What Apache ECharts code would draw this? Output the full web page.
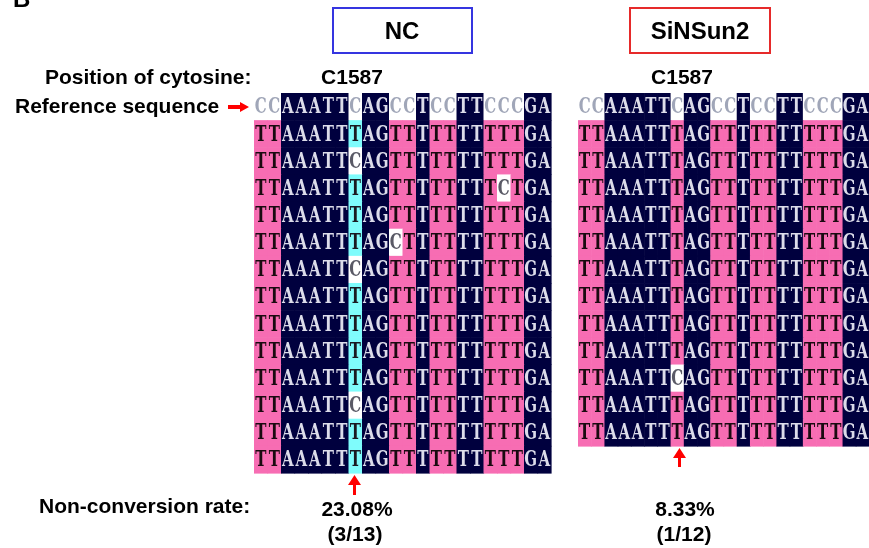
<!DOCTYPE html>
<html><head><meta charset="utf-8">
<script src="https://cdn.jsdelivr.net/npm/echarts@6/dist/echarts.min.js"></script>
<style>html,body{margin:0;padding:0;background:#fff}#c{width:869px;height:548px}</style>
</head><body><div id="c"></div>
<script>
// ---- data ----
const panelNames = ['NC', 'SiNSun2'];
const positionLabel = 'C1587';
const referenceSeq = 'CCAAATTCAGCCTCCTTCCCGA';
const ncReads = [
  'TTAAATTTAGTTTTTTTTTTGA',
  'TTAAATTCAGTTTTTTTTTTGA',
  'TTAAATTTAGTTTTTTTTCTGA',
  'TTAAATTTAGTTTTTTTTTTGA',
  'TTAAATTTAGCTTTTTTTTTGA',
  'TTAAATTCAGTTTTTTTTTTGA',
  'TTAAATTTAGTTTTTTTTTTGA',
  'TTAAATTTAGTTTTTTTTTTGA',
  'TTAAATTTAGTTTTTTTTTTGA',
  'TTAAATTTAGTTTTTTTTTTGA',
  'TTAAATTCAGTTTTTTTTTTGA',
  'TTAAATTTAGTTTTTTTTTTGA',
  'TTAAATTTAGTTTTTTTTTTGA'
];
const siReads = [
  'TTAAATTTAGTTTTTTTTTTGA',
  'TTAAATTTAGTTTTTTTTTTGA',
  'TTAAATTTAGTTTTTTTTTTGA',
  'TTAAATTTAGTTTTTTTTTTGA',
  'TTAAATTTAGTTTTTTTTTTGA',
  'TTAAATTTAGTTTTTTTTTTGA',
  'TTAAATTTAGTTTTTTTTTTGA',
  'TTAAATTTAGTTTTTTTTTTGA',
  'TTAAATTTAGTTTTTTTTTTGA',
  'TTAAATTCAGTTTTTTTTTTGA',
  'TTAAATTTAGTTTTTTTTTTGA',
  'TTAAATTTAGTTTTTTTTTTGA'
];
const rateLabels = ['23.08%', '8.33%'];
const countLabels = ['(3/13)', '(1/12)'];
const highlightCol = [7, -1];

// ---- styles ----
const NAVY = '#00003e', PINK = '#f76db3', CYAN = '#7ffcfc', WHITE = '#ffffff';

function buildCells(reads, hl) {
  const cells = [];
  for (let j = 0; j < referenceSeq.length; j++) {
    const r = referenceSeq[j];
    cells.push({col: j, row: 0, ch: r, bg: r === 'C' ? WHITE : NAVY, fg: r === 'C' ? '#a0a6b8' : '#dcdcea'});
  }
  reads.forEach((s, i) => {
    for (let j = 0; j < s.length; j++) {
      const ch = s[j], r = referenceSeq[j];
      let bg, fg;
      if (r !== 'C') { bg = NAVY; fg = '#dcdcea'; }
      else if (ch === 'C') { bg = WHITE; fg = '#5a5a66'; }
      else if (j === hl) { bg = CYAN; fg = '#1a1a22'; }
      else { bg = PINK; fg = '#1a0a10'; }
      cells.push({col: j, row: i + 1, ch, bg, fg});
    }
  });
  return cells;
}
const panels = [buildCells(ncReads, highlightCol[0]), buildCells(siReads, highlightCol[1])];

function makeRender(cells) {
  return function (params, api) {
    const cell = cells[params.dataIndex];
    const p = api.coord([cell.col, cell.row]);
    const s = api.size([1, 1]);
    return {
      type: 'group',
      children: [
        {type: 'rect', shape: {x: p[0] - s[0] / 2, y: p[1] - s[1] / 2, width: s[0] + 0.6, height: s[1] + 0.6},
         style: {fill: cell.bg}},
        {type: 'text', x: p[0], y: p[1] + 1, scaleY: 1.5,
         style: {text: cell.ch, fill: cell.fg, font: 'bold 15px "DejaVu Serif"', align: 'center', verticalAlign: 'middle',
                 textShadowColor: 'rgba(210,120,60,0.55)', textShadowOffsetX: -1, textShadowBlur: 0}}
      ]
    };
  };
}

const cols = referenceSeq.split('').map((_, i) => String(i));
const rowsOf = n => Array.from({length: n + 1}, (_, i) => String(i));

const chart = echarts.init(document.getElementById('c'), null, {renderer: 'canvas'});
const F = 'bold 21px "Liberation Sans", Arial, sans-serif';
function txt(x, y, t, align, font) {
  return {type: 'text', x, y, style: {text: t, font: font || F, fill: '#000', align: align || 'left', verticalAlign: 'middle'}};
}
chart.setOption({
  animation: false,
  backgroundColor: '#fff',
  grid: [
    {left: 254, top: 93, width: 297, height: 380},
    {left: 578, top: 93, width: 297, height: 353}
  ],
  xAxis: [
    {type: 'category', gridIndex: 0, data: cols, show: false},
    {type: 'category', gridIndex: 1, data: cols, show: false}
  ],
  yAxis: [
    {type: 'category', gridIndex: 0, data: rowsOf(ncReads.length), inverse: true, show: false},
    {type: 'category', gridIndex: 1, data: rowsOf(siReads.length), inverse: true, show: false}
  ],
  series: panels.map((cells, k) => ({
    type: 'custom', xAxisIndex: k, yAxisIndex: k,
    data: cells.map(c => [c.col, c.row]),
    renderItem: makeRender(cells),
    silent: true
  })),
  graphic: [
    txt(13, 0, 'B', 'left', 'bold 24px "Liberation Sans", Arial, sans-serif'),
    {type: 'rect', shape: {x: 333, y: 8, width: 139, height: 45}, style: {fill: 'none', stroke: '#3535e0', lineWidth: 2}},
    {type: 'rect', shape: {x: 630, y: 8, width: 140, height: 45}, style: {fill: 'none', stroke: '#e62a2a', lineWidth: 2}},
    txt(402, 32, panelNames[0], 'center', 'bold 24px "Liberation Sans", Arial, sans-serif'),
    txt(700, 32, panelNames[1], 'center', 'bold 24px "Liberation Sans", Arial, sans-serif'),
    txt(45, 78, 'Position of cytosine:'),
    txt(352, 78, positionLabel, 'center'),
    txt(682, 78, positionLabel, 'center'),
    txt(15, 107, 'Reference sequence'),
    {type: 'polygon', shape: {points: [[228, 105], [240, 105], [240, 102], [249, 107], [240, 112], [240, 109], [228, 109]]}, style: {fill: '#ff0000'}},
    {type: 'polygon', shape: {points: [[354.5, 475], [361, 485], [356, 485], [356, 495], [353, 495], [353, 485], [348, 485]]}, style: {fill: '#ff0000'}},
    {type: 'polygon', shape: {points: [[679.5, 448], [686, 458], [681, 458], [681, 467], [678, 467], [678, 458], [673, 458]]}, style: {fill: '#ff0000'}},
    txt(39, 507, 'Non-conversion rate:'),
    txt(357, 510, rateLabels[0], 'center'),
    txt(355, 535, countLabels[0], 'center'),
    txt(685, 510, rateLabels[1], 'center'),
    txt(684, 535, countLabels[1], 'center')
  ]
});
</script></body></html>
